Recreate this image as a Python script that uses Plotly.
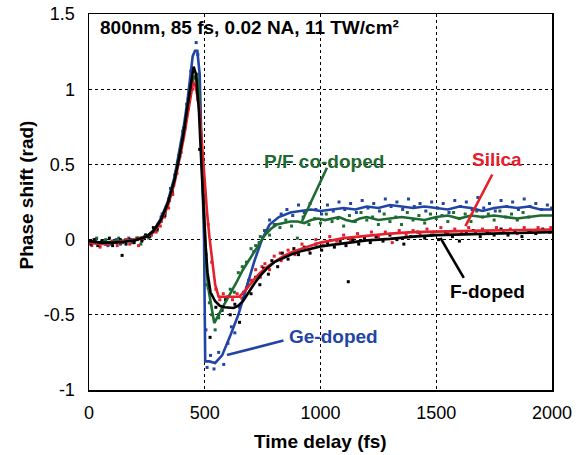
import plotly.graph_objects as go

# ---------------- data ----------------
x_ticks = [0, 500, 1000, 1500, 2000]
x_tick_text = ["0", "500", "1000", "1500", "2000"]
y_ticks = [-1, -0.5, 0, 0.5, 1, 1.5]
y_tick_text = ["-1", "-0.5", "0", "0.5", "1", "1.5"]

# smoothed curves
f_x = [0, 50, 100, 150, 200, 250, 280, 310, 340, 370, 390, 410, 425, 440, 452, 462, 475, 487, 495, 502, 512, 525, 545, 565, 585, 605, 625, 645, 665, 690, 715, 740, 770, 800, 840, 880, 920, 960, 1000, 1050, 1100, 1150, 1200, 1300, 1400, 1500, 1600, 1700, 1800, 1900, 2000]
f_y = [-0.01, -0.02, -0.02, -0.015, -0.005, 0.02, 0.06, 0.13, 0.24, 0.40, 0.55, 0.72, 0.88, 1.05, 1.15, 1.10, 0.85, 0.45, 0.2, 0.0, -0.22, -0.35, -0.41, -0.44, -0.45, -0.455, -0.455, -0.44, -0.41, -0.35, -0.29, -0.24, -0.19, -0.15, -0.12, -0.095, -0.075, -0.06, -0.045, -0.035, -0.025, -0.015, -0.005, 0.005, 0.02, 0.03, 0.035, 0.04, 0.045, 0.048, 0.05]

si_x = [0, 50, 100, 150, 200, 250, 280, 310, 340, 370, 390, 410, 425, 440, 450, 460, 475, 490, 500, 510, 520, 530, 545, 560, 600, 650, 680, 710, 740, 770, 800, 840, 880, 920, 960, 1000, 1050, 1100, 1200, 1300, 1400, 1500, 1600, 1700, 1800, 1900, 2000]
si_y = [-0.02, -0.03, -0.02, -0.01, 0.0, 0.02, 0.05, 0.12, 0.22, 0.38, 0.52, 0.68, 0.82, 0.97, 1.05, 1.02, 0.9, 0.6, 0.38, 0.18, 0.02, -0.12, -0.3, -0.38, -0.38, -0.38, -0.33, -0.27, -0.22, -0.18, -0.15, -0.11, -0.08, -0.06, -0.04, -0.02, -0.005, 0.01, 0.025, 0.04, 0.05, 0.055, 0.058, 0.06, 0.062, 0.065, 0.067]

ge_x = [0, 50, 100, 150, 200, 250, 280, 310, 340, 370, 390, 410, 425, 440, 448, 458, 468, 478, 488, 497, 502, 520, 545, 575, 610, 645, 682, 715, 747, 780, 820, 870, 913, 960, 1000, 1050, 1100, 1150, 1200, 1250, 1300, 1350, 1400, 1450, 1500, 1550, 1600, 1650, 1700, 1750, 1800, 1850, 1900, 1950, 2000]
ge_y = [-0.02, -0.02, -0.02, -0.01, 0.0, 0.02, 0.06, 0.14, 0.25, 0.42, 0.58, 0.76, 0.92, 1.1, 1.22, 1.255, 1.255, 1.1, 0.6, 0.0, -0.81, -0.81, -0.82, -0.77, -0.64, -0.5, -0.31, -0.14, 0.0, 0.1, 0.15, 0.18, 0.19, 0.2, 0.19, 0.2, 0.21, 0.2, 0.22, 0.21, 0.23, 0.22, 0.21, 0.22, 0.21, 0.2, 0.22, 0.21, 0.19, 0.21, 0.22, 0.21, 0.22, 0.2, 0.2]

pf_x = [0, 50, 100, 150, 200, 250, 280, 310, 340, 370, 390, 410, 425, 440, 455, 466, 475, 483, 492, 500, 508, 515, 528, 541, 570, 603, 635, 665, 690, 715, 740, 760, 785, 812, 840, 870, 900, 930, 960, 990, 1020, 1050, 1080, 1110, 1140, 1170, 1200, 1250, 1300, 1350, 1400, 1450, 1500, 1550, 1600, 1650, 1700, 1750, 1800, 1850, 1900, 1950, 2000]
pf_y = [-0.01, -0.02, -0.015, -0.01, 0.0, 0.02, 0.06, 0.13, 0.24, 0.40, 0.55, 0.72, 0.88, 1.02, 1.08, 1.1, 1.0, 0.7, 0.35, 0.02, -0.2, -0.32, -0.45, -0.555, -0.47, -0.38, -0.29, -0.2, -0.14, -0.08, -0.02, 0.03, 0.07, 0.1, 0.11, 0.12, 0.12, 0.11, 0.13, 0.14, 0.13, 0.14, 0.15, 0.13, 0.12, 0.14, 0.15, 0.13, 0.14, 0.15, 0.14, 0.13, 0.15, 0.16, 0.14, 0.16, 0.15, 0.16, 0.15, 0.14, 0.15, 0.16, 0.16]

# raw measurement points
f_dx = [8, 22, 38, 55, 70, 88, 102, 118, 135, 143, 160, 178, 195, 212, 228, 245, 262, 278, 295, 312, 328, 345, 360, 375, 392, 408, 420, 438, 470, 478, 505, 515, 523, 548, 560, 575, 590, 610, 630, 650, 668, 685, 700, 720, 738, 755, 775, 790, 815, 835, 860, 885, 905, 930, 955, 980, 1005, 1030, 1060, 1085, 1110, 1120, 1140, 1165, 1190, 1215, 1240, 1270, 1300, 1330, 1360, 1390, 1420, 1450, 1480, 1510, 1540, 1570, 1600, 1630, 1660, 1690, 1720, 1750, 1780, 1810, 1840, 1870, 1900, 1930, 1960, 1990]
f_dy = [-0.03, 0.0, -0.04, -0.01, -0.03, 0.01, -0.04, -0.02, 0.0, -0.105, -0.03, 0.0, -0.02, 0.01, -0.01, 0.03, 0.02, 0.08, 0.07, 0.15, 0.16, 0.27, 0.32, 0.45, 0.55, 0.74, 0.82, 1.02, 0.95, 0.6, -0.1, -0.32, -0.65, -0.45, -0.5, -0.47, -0.4, -0.5, -0.43, -0.55, -0.39, -0.3, -0.36, -0.25, -0.3, -0.19, -0.23, -0.14, -0.18, -0.09, -0.13, -0.06, -0.1, -0.05, -0.09, -0.03, -0.07, -0.02, -0.05, -0.01, -0.04, -0.28, 0.0, -0.03, 0.01, -0.02, 0.02, -0.01, 0.03, 0.0, -0.03, 0.02, 0.05, 0.01, 0.03, 0.0, 0.05, 0.02, -0.01, 0.04, 0.06, 0.02, 0.05, 0.03, 0.07, 0.03, 0.05, 0.02, 0.06, 0.04, 0.07, 0.05]

si_dx = [12, 30, 48, 66, 84, 100, 122, 140, 158, 176, 194, 214, 232, 250, 270, 290, 308, 326, 344, 362, 380, 398, 415, 430, 448, 470, 515, 530, 548, 565, 580, 600, 620, 640, 660, 680, 700, 720, 740, 747, 760, 780, 800, 826, 830, 860, 890, 920, 950, 980, 1010, 1040, 1070, 1100, 1130, 1160, 1190, 1220, 1250, 1280, 1310, 1340, 1370, 1400, 1430, 1460, 1490, 1520, 1550, 1580, 1610, 1640, 1670, 1700, 1730, 1760, 1790, 1820, 1850, 1880, 1910, 1940, 1970, 1995]
si_dy = [-0.04, -0.02, -0.05, -0.02, -0.03, -0.01, -0.04, -0.02, 0.0, -0.03, -0.01, -0.04, 0.0, 0.02, 0.03, 0.05, 0.09, 0.15, 0.21, 0.3, 0.44, 0.58, 0.74, 0.87, 1.0, 0.93, 0.1, -0.15, -0.33, -0.4, -0.36, -0.38, -0.4, -0.36, -0.39, -0.32, -0.27, -0.2, -0.25, -0.18, -0.16, -0.2, -0.11, -0.09, -0.14, -0.07, -0.1, -0.03, -0.07, 0.0, -0.04, 0.02, -0.01, 0.03, 0.0, 0.04, 0.01, 0.05, 0.02, 0.05, -0.02, 0.06, 0.03, 0.06, 0.04, 0.07, 0.05, 0.08, 0.04, 0.07, 0.05, 0.08, 0.05, 0.07, 0.04, 0.08, 0.05, 0.07, 0.04, 0.08, 0.06, 0.08, 0.06, 0.08]

ge_dx = [10, 28, 46, 64, 82, 100, 118, 136, 154, 172, 190, 208, 226, 244, 262, 280, 298, 316, 334, 352, 370, 388, 405, 422, 440, 463, 470, 505, 510, 525, 540, 560, 582, 600, 615, 630, 650, 668, 690, 712, 735, 758, 780, 805, 830, 855, 880, 905, 930, 955, 980, 1005, 1030, 1055, 1080, 1105, 1130, 1155, 1180, 1205, 1230, 1255, 1280, 1305, 1330, 1355, 1380, 1405, 1430, 1455, 1480, 1505, 1530, 1555, 1580, 1605, 1630, 1655, 1680, 1705, 1730, 1755, 1780, 1805, 1830, 1855, 1880, 1905, 1930, 1955, 1980, 1998]
ge_dy = [-0.03, 0.0, -0.03, -0.01, -0.04, -0.02, 0.0, -0.03, -0.01, 0.01, -0.02, 0.0, 0.01, 0.03, 0.02, 0.07, 0.1, 0.17, 0.22, 0.34, 0.43, 0.56, 0.72, 0.9, 1.12, 1.31, 1.23, -0.6, -0.85, -0.77, -0.86, -0.75, -0.83, -0.69, -0.58, -0.62, -0.45, -0.35, -0.27, -0.08, -0.02, 0.06, 0.13, 0.1, 0.17, 0.2, 0.16, 0.23, 0.18, 0.24, 0.2, 0.17, 0.23, 0.19, 0.25, 0.2, 0.24, 0.18, 0.26, 0.21, 0.24, 0.19, 0.27, 0.22, 0.25, 0.2, 0.27, 0.22, 0.24, 0.19, 0.25, 0.21, 0.24, 0.18, 0.26, 0.22, 0.25, 0.2, 0.28, 0.21, 0.24, 0.19, 0.26, 0.22, 0.25, 0.2, 0.27, 0.22, 0.24, 0.2, 0.23, 0.21]

pf_dx = [15, 33, 52, 72, 90, 108, 128, 146, 166, 186, 206, 224, 240, 258, 276, 294, 312, 330, 348, 366, 384, 402, 418, 435, 450, 468, 480, 508, 520, 530, 545, 560, 575, 592, 610, 628, 645, 662, 680, 700, 720, 740, 760, 780, 800, 825, 850, 875, 900, 925, 950, 975, 1000, 1025, 1050, 1075, 1100, 1125, 1150, 1175, 1200, 1225, 1250, 1275, 1300, 1325, 1350, 1375, 1400, 1425, 1450, 1475, 1500, 1525, 1550, 1575, 1600, 1625, 1650, 1675, 1700, 1725, 1750, 1775, 1800, 1825, 1850, 1875, 1900, 1925, 1950, 1975, 1995]
pf_dy = [-0.02, 0.01, -0.02, 0.0, -0.03, -0.01, 0.01, -0.02, 0.0, -0.02, 0.01, -0.03, 0.02, 0.01, 0.05, 0.06, 0.12, 0.18, 0.26, 0.36, 0.5, 0.66, 0.8, 0.98, 1.08, 1.1, 0.85, -0.3, -0.42, -0.5, -0.6, -0.52, -0.45, -0.4, -0.33, -0.35, -0.22, -0.18, -0.15, -0.06, -0.04, 0.02, 0.06, 0.03, 0.1, 0.08, 0.13, 0.09, 0.01, 0.15, 0.1, 0.14, 0.11, 0.17, 0.12, 0.14, 0.09, 0.16, 0.12, 0.18, 0.13, 0.15, 0.1, 0.17, 0.12, 0.15, 0.1, 0.18, 0.13, 0.16, 0.11, 0.17, 0.14, 0.16, 0.12, 0.18, 0.14, 0.17, 0.12, 0.19, 0.15, 0.17, 0.13, 0.19, 0.15, 0.17, 0.13, 0.18, 0.15]

# ---------------- style ----------------
BLACK = "#000000"
RED = "#e3202b"
BLUE = "#2244a4"
GREEN = "#1d6a33"
FONT = "Arial, 'Liberation Sans', sans-serif"

fig = go.Figure()

series = [
    (ge_dx, ge_dy, ge_x, ge_y, BLUE),
    (pf_dx, pf_dy, pf_x, pf_y, GREEN),
    (si_dx, si_dy, si_x, si_y, RED),
    (f_dx, f_dy, f_x, f_y, BLACK),
]
for dx, dy, _, _, c in series:
    fig.add_trace(go.Scatter(x=dx, y=dy, mode="markers",
                             marker=dict(symbol="square", size=3, color=c, line=dict(width=0)),
                             showlegend=False, hoverinfo="skip", cliponaxis=False))
for _, _, lx, ly, c in series:
    fig.add_trace(go.Scatter(x=lx, y=ly, mode="lines",
                             line=dict(color=c, width=2.6),
                             showlegend=False, hoverinfo="skip"))

# leader lines
leaders = [
    (1028, 0.478, 920, 0.122, GREEN),
    (1742, 0.433, 1626, 0.089, RED),
    (1518, 0.011, 1619, -0.255, BLACK),
    (596, -0.767, 840, -0.671, BLUE),
]
for x0, y0, x1, y1, c in leaders:
    fig.add_shape(type="line", x0=x0, y0=y0, x1=x1, y1=y1, xref="x", yref="y",
                  line=dict(color=c, width=2.6))

labels = [
    ("P/F co-doped", 1016, 0.52, GREEN),
    ("Silica", 1763, 0.53, RED),
    ("F-doped", 1720, -0.345, BLACK),
    ("Ge-doped", 1055, -0.645, BLUE),
]
for t, x, y, c in labels:
    fig.add_annotation(x=x, y=y, text="<b>%s</b>" % t, showarrow=False,
                       font=dict(family=FONT, size=19, color=c),
                       xanchor="center", yanchor="middle")

fig.add_annotation(x=39, y=1.41, text="<b>800nm, 85 fs, 0.02 NA, 11 TW/cm²</b>",
                   showarrow=False, xanchor="left", yanchor="middle",
                   font=dict(family=FONT, size=19, color=BLACK))

fig.add_annotation(x=0.5, y=-0.136, xref="paper", yref="paper", text="<b>Time delay (fs)</b>",
                   showarrow=False, xanchor="center", yanchor="middle",
                   font=dict(family=FONT, size=19, color=BLACK))
fig.add_annotation(x=-0.134, y=0.52, xref="paper", yref="paper", text="<b>Phase shift (rad)</b>",
                   showarrow=False, xanchor="center", yanchor="middle", textangle=-90,
                   font=dict(family=FONT, size=19, color=BLACK))

axis_common = dict(showline=True, linecolor=BLACK, linewidth=1.5, mirror=True,
                   showgrid=True, gridcolor=BLACK, gridwidth=1, griddash="dot",
                   zeroline=False, ticks="", ticklabeloverflow="allow", automargin=False,
                   tickfont=dict(family=FONT, size=18, color=BLACK))

fig.update_layout(
    width=582, height=455,
    margin=dict(l=89, r=30, t=14, b=65),
    paper_bgcolor="white", plot_bgcolor="white",
    xaxis=dict(range=[0, 2000], tickvals=x_ticks, ticktext=x_tick_text,
               ticklabelstandoff=6, **axis_common),
    yaxis=dict(range=[-1, 1.5], tickvals=y_ticks, ticktext=y_tick_text,
               ticklabelstandoff=9, **axis_common),
)

# remove the default page margin so the figure sits at the window's top-left corner
fig.write_html("out.html", config={"displayModeBar": False, "staticPlot": True},
               post_script="document.body.style.margin='0px';")
